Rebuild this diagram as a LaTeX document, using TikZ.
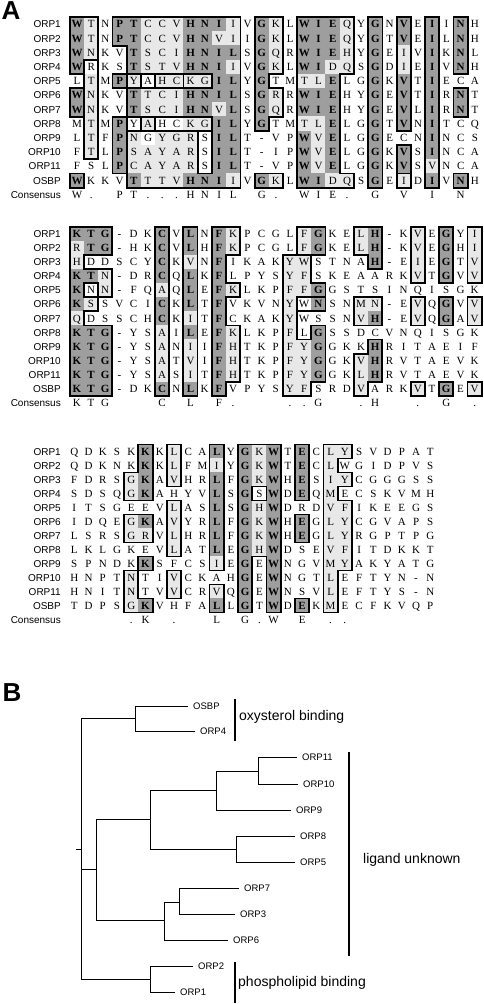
\documentclass[tikz,border=0pt]{standalone}
\usepackage{fontspec}
\setmainfont{Liberation Serif}
\setsansfont{Liberation Sans}
\usepackage{tikz}

\definecolor{darkcell}{gray}{0.62}
\definecolor{lightcell}{gray}{0.91}

\tikzset{
  seqname/.style={anchor=east, inner sep=0pt, text height=7.2pt, text depth=0pt,
    font=\sffamily\fontsize{10}{12}\selectfont},
  residue/.style={inner sep=0pt, text height=7.3pt, text depth=0pt,
    font=\rmfamily\fontsize{11}{11}\selectfont},
  conserved/.style={residue, font=\rmfamily\bfseries\fontsize{11}{11}\selectfont},
  boxline/.style={line width=1.8pt, line cap=rect},
  panel/.style={inner sep=0pt, font=\sffamily\bfseries\fontsize{26}{26}\selectfont},
  branch/.style={line width=0.9pt},
  leaf/.style={anchor=west, inner xsep=5pt, inner ysep=0pt, text height=6.8pt,
    text depth=0pt, font=\sffamily\fontsize{9.5}{10}\selectfont},
  bracket/.style={line width=1.1pt},
  grouplabel/.style={anchor=west, inner sep=0pt, font=\sffamily\fontsize{14}{16}\selectfont}
}

% one character per cell: \csname <prefix>-<n>\endcsname
\newcount\cellcnt
\def\gobblearg#1{}
\def\storestep#1#2{\global\advance\cellcnt by 1
  \expandafter\xdef\csname #1-\the\cellcnt\endcsname{#2}}
\def\storeloop#1#2{\ifx\relax#2\expandafter\gobblearg\else
  \storestep{#1}{#2}\expandafter\storeloop\fi{#1}}
\def\storechars#1#2{\global\cellcnt=0 \storeloop{#1}#2\relax}
% block, row, residues, shading (d/l/.), box id (. = none)
\newcommand\seqrow[5]{\storechars{L-#1-#2}{#3}\storechars{S-#1-#2}{#4}\storechars{B-#1-#2}{#5}}

% block 1
\seqrow{1}{1}{WTNPTCCVHNIIVGKLWIEQYGNVEIINH}{dl.ddllldddl.dl.dddl.d.d.d.d.}{aa.ccccccccc.gg.wwww.x.v.i.n.}
\seqrow{1}{2}{WTNPTCCVHNVIIGKLWIEQYGTVEILNH}{dl.ddlllddll.dl.dddl.d.d.d.d.}{aa.ccccccccc.gg.wwww.x.v.i.n.}
\seqrow{1}{3}{WNKVTSCIHNILSGQRWIEHYGEIVIKNL}{dl..dllldddd.dl.dddl.d.l.d.d.}{aa..cccccccc.gg.wwww.x.v.i.n.}
\seqrow{1}{4}{WRKSTSTVHNIIVGKLWIDQSGDIEIVNH}{d...dllldddl.dl.ddll.d.l.d.d.}{ab..cccccccc.gg.wwww.x.v.i.n.}
\seqrow{1}{5}{LTMPYAHCKGILYGTMTLELGGKVTIECA}{.l.dl.lllldd.d..lld..d.d.d...}{.b.py.hh..cc.g..www..x.v.i...}
\seqrow{1}{6}{WNKVTTCIHNILSGRRWIEHYGEVTIRNT}{dl..dllldddd.dl.ddd..d.d.d.d.}{eb..cccccccc.gg.www..x.v.i.m.}
\seqrow{1}{7}{WNKVTSCIHNVLSGQRWIEHYGEVLIRNT}{dl..dlllddld.dl.ddd..d.d.d.d.}{eb..cccccccc.gg.www..x.v.i.m.}
\seqrow{1}{8}{MTMPYAHCKGILYGTMTLELGGTVNITCQ}{.l.d.l..lldd.d..lld..d.d.d...}{.b.q.k....cc.g..www..x.v.i...}
\seqrow{1}{9}{LTFPNGYGRSILT-VPWVELGGECNINCS}{.l.dl.lll.dd....dld..d...d...}{.b.qcccccscc....www..x...i...}
\seqrow{1}{10}{FTLPSAYARSILT-IPWVELGGKVSINCA}{.l.dlllll.dd....dld..d.d.d...}{.b.qcccccscc....www..x.u.i...}
\seqrow{1}{11}{FSLPCAYARSILT-VPWVELGGKVSVNCA}{...dlllll.dd....dld..d.d.l...}{...qcccccscc....www..x.u.i...}
\seqrow{1}{12}{WKKVTTTVHNIIVGKLWIDQSGEIDIVNH}{d...dllldddl.dl.ddll.d.l.d.d.}{o...cccccccc.ff.wwww.x.t.i.r.}
\storechars{C-1}{W.+PT...HNIL+G.+WIE.+G+V+I+N+}

% block 2
\seqrow{2}{1}{KTG-DKCVLNFKPCGLFGKELH-KVEGYI}{ddd...d.d.dl....ld..ld..l.d.l}{kkk...c.l.ff....zz..ee..v.g.p}
\seqrow{2}{2}{RTG-HKCVLHFKPCGLFGKELH-KVEGHI}{ldd...d.d.dl....ld..ld..l.d.l}{kkk...c.l.ff....zz..ee..v.g.p}
\seqrow{2}{3}{HDDSCYCKVNFIKAKYWSTNAH-EIEGTV}{l.....d.l.d....ll....d..l.d.l}{k.....c.l.f....yy....e..v.g.p}
\seqrow{2}{4}{KTN-DRCQLKFLPYSYFSKEAARKVTGVV}{ddl...d.d.d....ll.......l.d.l}{kkk...c.l.f....yy.......v.g.p}
\seqrow{2}{5}{KNN-FQAQLEFKLKPFFGGSTSINQISGK}{d.l...l.d.dl...lld...........}{knk...c.l.ff...yyy...........}
\seqrow{2}{6}{KSSVCICKLTFVKVNYWNSNMN-EVQGVV}{dl....d.d.d....l.d..ll..l.d.l}{kk....c.l.f....yjj..mm..u.G.o}
\seqrow{2}{7}{QDSSCHCKITFCKAKYWSSNVH-EVQGAV}{l.....d.l.d....l....ld..l.d.l}{k.....c.l.f....y....mm..u.G.o}
\seqrow{2}{8}{KTG-YSAILEFKLKPFLGSSDCVNQISGK}{ddd...l.d.dl...l.d...........}{kkk...c.l.ff...y.y...........}
\seqrow{2}{9}{KTG-YSANIIFHTKPFYGGKKHRITAEIF}{ddd...l.l.dl...lld...d.......}{kkk...c.l.ff...yyy...h.......}
\seqrow{2}{10}{KTG-YSATVIFHTKPFYGGKVHRVTAEVK}{ddd...l.l.dl...lld..ld.......}{kkk...c.l.ff...yyy..hh.......}
\seqrow{2}{11}{KTG-YSASITFHTKPFYGGKLHRVTAEVK}{ddd...l.l.dl...lld..ld.......}{kkk...c.l.ff...yyy..hh.......}
\seqrow{2}{12}{KTG-DKCNLKFVPYSYFSRDVARKVTGEV}{ddd...d.d.d....ll...l...l.d.l}{kkk...c.l.f....yy...h...t.q.r}
\storechars{C-2}{KTG+++C+L+F.+++..G++.H++.+G+.}

% block 3
\seqrow{3}{1}{QDKSKKKLCALYGKWTECLYSVDPAT}{.....d.l..d.dld.d.ll......}{.....a.d..g.www.p.ll......}
\seqrow{3}{2}{QDKNKKKLFMIYGKWTECLWGIDPVS}{.....d.l..l.dld.d.l.......}{.....a.d..g.www.p.l.......}
\seqrow{3}{3}{FDRSGKAVHRLFGKWHESIYCGGGSS}{....ld.l..d.dld.d.ll......}{....aa.d..g.www.p.ll......}
\seqrow{3}{4}{SDSQGKAHYVLSGSWDEQMECSKVMH}{....ld....d.d.d.d.l.......}{....aa....g.w.w.p.l.......}
\seqrow{3}{5}{ITSGEEVLASLSGHWDRDVFIKEEGS}{.......l..d.dld...ll......}{.......e..g.www...ll......}
\seqrow{3}{6}{IDQEGKAVYRLFGKWHEGLYCGVAPS}{....ld.l..d.dld.d.ll......}{....bb.e..g.www.q.ll......}
\seqrow{3}{7}{LSRSGRVLHRLFGKWHEGLYRGPTPG}{....ll.l..d.dld.d.ll......}{....bb.e..g.www.q.ll......}
\seqrow{3}{8}{LKLGKEVLATLEGHWDSEVFITDKKT}{.......l..d.dld...ll......}{.......e..g.www...ll......}
\seqrow{3}{9}{SPNDKKSFCSIEGEWNGVMYAKYATG}{.....d....l.d.d...ll......}{.....c....g.w.w...ll......}
\seqrow{3}{10}{HNPTNTIVCKAHGEWNGTLEFTYN-N}{....l..l....d.d...l.......}{....c..f....w.w...l.......}
\seqrow{3}{11}{HNITNTVVCRVQGEWNSVLEFTYS-N}{....l..l..l.d.d...l.......}{....c..f..h.w.w...l.......}
\seqrow{3}{12}{TDPSGKVHFALLGTWDEKMECFKVQP}{....ld....d.d.d.d.l.......}{....cc....h.w.w.r.l.......}
\storechars{C-3}{++++.K+.++L+G.W+E+..++++++}

% names column
\newcommand\drawnames[3]{%
  \foreach \nm [count=\ri] in {ORP1,ORP2,ORP3,ORP4,ORP5,ORP6,ORP7,ORP8,ORP9,ORP10,ORP11,OSBP}{
    \node[seqname] (name#1-\ri) at (61,{#2+(\ri-1)*#3}) {\nm};
  }
  \node[seqname] (name#1-13) at (61,{#2+12*#3}) {Consensus};
}

% one alignment block, cell (column,row) at (\ci,\ri)
\newcommand\drawblock[2]{%
  % shading
  \foreach \ri in {1,...,12}{
    \foreach \ci in {1,...,#2}{
      \edef\cellshade{\csname S-#1-\ri-\ci\endcsname}
      \if d\cellshade
        \fill[darkcell] (\ci-0.52,\ri-0.52) rectangle (\ci+0.52,\ri+0.52);
      \fi
      \if l\cellshade
        \fill[lightcell] (\ci-0.52,\ri-0.52) rectangle (\ci+0.52,\ri+0.52);
      \fi
    }
  }
  % box outlines
  \foreach \ri in {1,...,12}{
    \foreach \ci in {1,...,#2}{
      \edef\cellbox{\csname B-#1-\ri-\ci\endcsname}
      \if .\cellbox\else
        \edef\nbrbox{\csname B-#1-\the\numexpr\ri-1\relax-\ci\endcsname}
        \ifx\cellbox\nbrbox\else\draw[boxline] (\ci-0.5,\ri-0.5) -- (\ci+0.5,\ri-0.5);\fi
        \edef\nbrbox{\csname B-#1-\the\numexpr\ri+1\relax-\ci\endcsname}
        \ifx\cellbox\nbrbox\else\draw[boxline] (\ci-0.5,\ri+0.5) -- (\ci+0.5,\ri+0.5);\fi
        \edef\nbrbox{\csname B-#1-\ri-\the\numexpr\ci-1\relax\endcsname}
        \ifx\cellbox\nbrbox\else\draw[boxline] (\ci-0.5,\ri-0.5) -- (\ci-0.5,\ri+0.5);\fi
        \edef\nbrbox{\csname B-#1-\ri-\the\numexpr\ci+1\relax\endcsname}
        \ifx\cellbox\nbrbox\else\draw[boxline] (\ci+0.5,\ri-0.5) -- (\ci+0.5,\ri+0.5);\fi
      \fi
    }
  }
  % residues
  \foreach \ri in {1,...,12}{
    \foreach \ci in {1,...,#2}{
      \edef\cellchar{\csname L-#1-\ri-\ci\endcsname}
      \edef\cellshade{\csname S-#1-\ri-\ci\endcsname}
      \if d\cellshade
        \node[conserved] (res#1-\ri-\ci) at (\ci,\ri) {\cellchar};
      \else
        \node[residue] (res#1-\ri-\ci) at (\ci,\ri) {\cellchar};
      \fi
    }
  }
  % consensus line
  \foreach \ci in {1,...,#2}{
    \edef\cellchar{\csname C-#1-\ci\endcsname}
    \if +\cellchar\else
      \node[residue] (con#1-\ci) at (\ci,13) {\cellchar};
    \fi
  }
}

\begin{document}
\begin{tikzpicture}[x=1pt, y=-1pt]
  \useasboundingbox (0,0) rectangle (484,1004);

  % A: alignment
  \node[panel] (panelA) at (11,11) {A};
  \drawnames{1}{24.3}{14.2}
  \drawnames{2}{233.8}{14.1}
  \drawnames{3}{451.5}{14.0}

  \begin{scope}[shift={(62.79pt,-10.1pt)}, x=14.21pt, y=-14.2pt]
    \drawblock{1}{29}
  \end{scope}
  \begin{scope}[shift={(62.59pt,-219.7pt)}, x=14.21pt, y=-14.1pt]
    \drawblock{2}{29}
  \end{scope}
  \begin{scope}[shift={(60.06pt,-437.5pt)}, x=14.24pt, y=-14pt]
    \drawblock{3}{26}
  \end{scope}

  % B: tree
  \node[panel] (panelB) at (12,693) {B};
  \coordinate (stub) at (76,849);
  \coordinate (root) at (81,849);
  \coordinate (oxy) at (135,718);
  \coordinate (mid) at (96,869);
  \coordinate (upper) at (150,819);
  \coordinate (orp9up) at (216,790);
  \coordinate (orp11up) at (258,771);
  \coordinate (orp8up) at (236,849);
  \coordinate (lower) at (164,920);
  \coordinate (orp7up) at (179,902);
  \coordinate (phos) at (150,979);

  \node[leaf] (OSBP) at (188,706) {OSBP};
  \node[leaf] (ORP4) at (195,731) {ORP4};
  \node[leaf] (ORP11) at (297,757) {ORP11};
  \node[leaf] (ORP10) at (298,784) {ORP10};
  \node[leaf] (ORP9) at (291,810) {ORP9};
  \node[leaf] (ORP8) at (295,836) {ORP8};
  \node[leaf] (ORP5) at (295,862) {ORP5};
  \node[leaf] (ORP7) at (239,888) {ORP7};
  \node[leaf] (ORP3) at (235,914) {ORP3};
  \node[leaf] (ORP6) at (228,940) {ORP6};
  \node[leaf] (ORP2) at (193,966) {ORP2};
  \node[leaf] (ORP1) at (175,992) {ORP1};

  \draw[branch] (stub) -- (root);
  \draw[branch] (root) |- (oxy);
  \draw[branch] (root) |- (mid);
  \draw[branch] (root) |- (phos);
  \draw[branch] (oxy) |- (OSBP);
  \draw[branch] (oxy) |- (ORP4);
  \draw[branch] (mid) |- (upper);
  \draw[branch] (mid) |- (lower);
  \draw[branch] (upper) |- (orp9up);
  \draw[branch] (upper) |- (orp8up);
  \draw[branch] (orp9up) |- (orp11up);
  \draw[branch] (orp9up) |- (ORP9);
  \draw[branch] (orp11up) |- (ORP11);
  \draw[branch] (orp11up) |- (ORP10);
  \draw[branch] (orp8up) |- (ORP8);
  \draw[branch] (orp8up) |- (ORP5);
  \draw[branch] (lower) |- (orp7up);
  \draw[branch] (lower) |- (ORP6);
  \draw[branch] (orp7up) |- (ORP7);
  \draw[branch] (orp7up) |- (ORP3);
  \draw[branch] (phos) |- (ORP2);
  \draw[branch] (phos) |- (ORP1);

  % ligand groups
  \coordinate (oxyTop) at (235,699);
  \coordinate (oxyBot) at (235,741);
  \draw[bracket] (oxyTop) -- (oxyBot);
  \node[grouplabel] (oxyText) at (239,717) {oxysterol binding};
  \coordinate (ligTop) at (349,752);
  \coordinate (ligBot) at (349,956);
  \draw[bracket] (ligTop) -- (ligBot);
  \node[grouplabel] (ligText) at (363,860) {ligand unknown};
  \coordinate (phosTop) at (235,962);
  \coordinate (phosBot) at (235,1003);
  \draw[bracket] (phosTop) -- (phosBot);
  \node[grouplabel] (phosText) at (238,983) {phospholipid binding};
\end{tikzpicture}
\end{document}
